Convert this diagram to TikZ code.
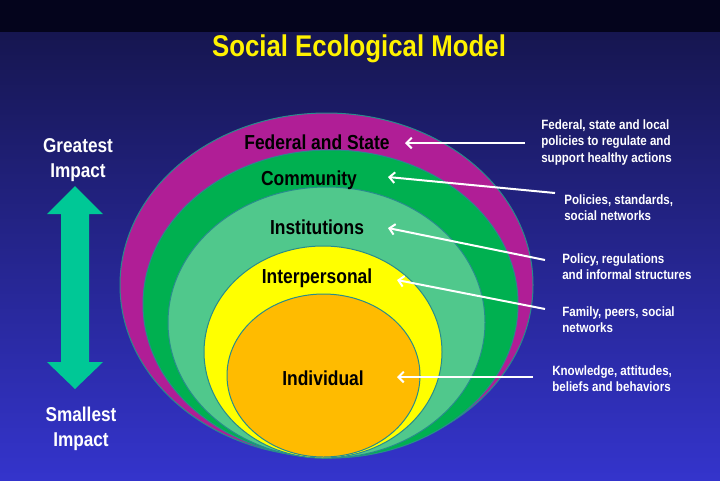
\documentclass[tikz,border=0pt]{standalone}
\usepackage{fontspec}
\setmainfont[FakeStretch=0.86]{Liberation Sans}
\usetikzlibrary{arrows.meta}
\definecolor{topband}{RGB}{4,4,28}
\definecolor{bgtop}{RGB}{22,22,80}
\definecolor{bgbot}{RGB}{52,52,204}
\definecolor{federal}{RGB}{176,30,150}
\definecolor{community}{RGB}{0,176,80}
\definecolor{institution}{RGB}{80,200,140}
\definecolor{interpers}{RGB}{255,255,0}
\definecolor{individ}{RGB}{255,187,0}
\definecolor{rim}{RGB}{40,140,140}
\definecolor{impact}{RGB}{0,200,150}
\begin{document}
\begin{tikzpicture}[x=0.75pt, y=-0.75pt,
  layer/.style={draw=rim, line width=0.75pt},
  ring/.style={font=\bfseries\fontsize{15.2}{18}\selectfont, text=black, inner sep=0pt, anchor=base},
  note/.style={font=\bfseries\fontsize{10.1}{12.5}\selectfont, text=white, align=left, anchor=north west, inner sep=0pt},
  side/.style={font=\bfseries\fontsize{15}{18.75}\selectfont, text=white, align=center, anchor=north, inner sep=0pt},
  pointer/.style={draw=white, line width=1.5pt, -{Straight Barb[length=4pt,width=8pt]}}]
\useasboundingbox (0,0) rectangle (720,480);
% background
\shade[top color=bgtop, bottom color=bgbot] (0,32) rectangle (720,480);
\fill[topband] (0,0) rectangle (720,32);
\node[font=\bfseries\fontsize{22.5}{27}\selectfont, text=yellow, inner sep=0pt, anchor=base] (title) at (359,56) {Social Ecological Model};
% nested layers
\filldraw[layer, fill=federal] (326.5,285) ellipse [x radius=206.5, y radius=172];
\filldraw[layer, fill=community] (330.5,304) ellipse [x radius=187.5, y radius=154];
\filldraw[layer, fill=institution] (326.5,322.5) ellipse [x radius=158.5, y radius=135.5];
\filldraw[layer, fill=interpers] (323,352) ellipse [x radius=119, y radius=106];
\filldraw[layer, fill=individ] (323.5,375.5) ellipse [x radius=96.5, y radius=81.5];
\node[ring] (fed) at (317,149) {Federal and State};
\node[ring] (comm) at (309,185) {Community};
\node[ring] (inst) at (317,234) {Institutions};
\node[ring] (inter) at (317,283) {Interpersonal};
\node[ring] (indiv) at (323,385) {Individual};
% impact scale
\fill[impact] (75,186) -- (103,214) -- (89,214) -- (89,362) -- (103,362) -- (75,389)
  -- (47,362) -- (61,362) -- (61,214) -- (47,214) -- cycle;
\node[side] (great) at (78,138) {Greatest\\Impact};
\node[side] (small) at (81,407) {Smallest\\Impact};
% descriptions
\node[note] (fedNote) at (541,119) {Federal, state and local\\policies to regulate and\\support healthy actions};
\node[note] (commNote) at (564,194) {Policies, standards,\\social networks};
\node[note] (instNote) at (562,253) {Policy, regulations\\and informal structures};
\node[note] (interNote) at (562,306) {Family, peers, social\\networks};
\node[note] (indivNote) at (552,365) {Knowledge, attitudes,\\beliefs and behaviors};
\coordinate (fedTail) at (525,143);
\coordinate (fedTip) at (405,143);
\coordinate (commTail) at (555,193);
\coordinate (commTip) at (388,177);
\coordinate (instTail) at (545,260);
\coordinate (instTip) at (388,228);
\coordinate (interTail) at (545,309);
\coordinate (interTip) at (397,280);
\coordinate (indivTail) at (533,377);
\coordinate (indivTip) at (397,377);
\draw[pointer] (fedTail) -- (fedTip);
\draw[pointer] (commTail) -- (commTip);
\draw[pointer] (instTail) -- (instTip);
\draw[pointer] (interTail) -- (interTip);
\draw[pointer] (indivTail) -- (indivTip);
\end{tikzpicture}
\end{document}
